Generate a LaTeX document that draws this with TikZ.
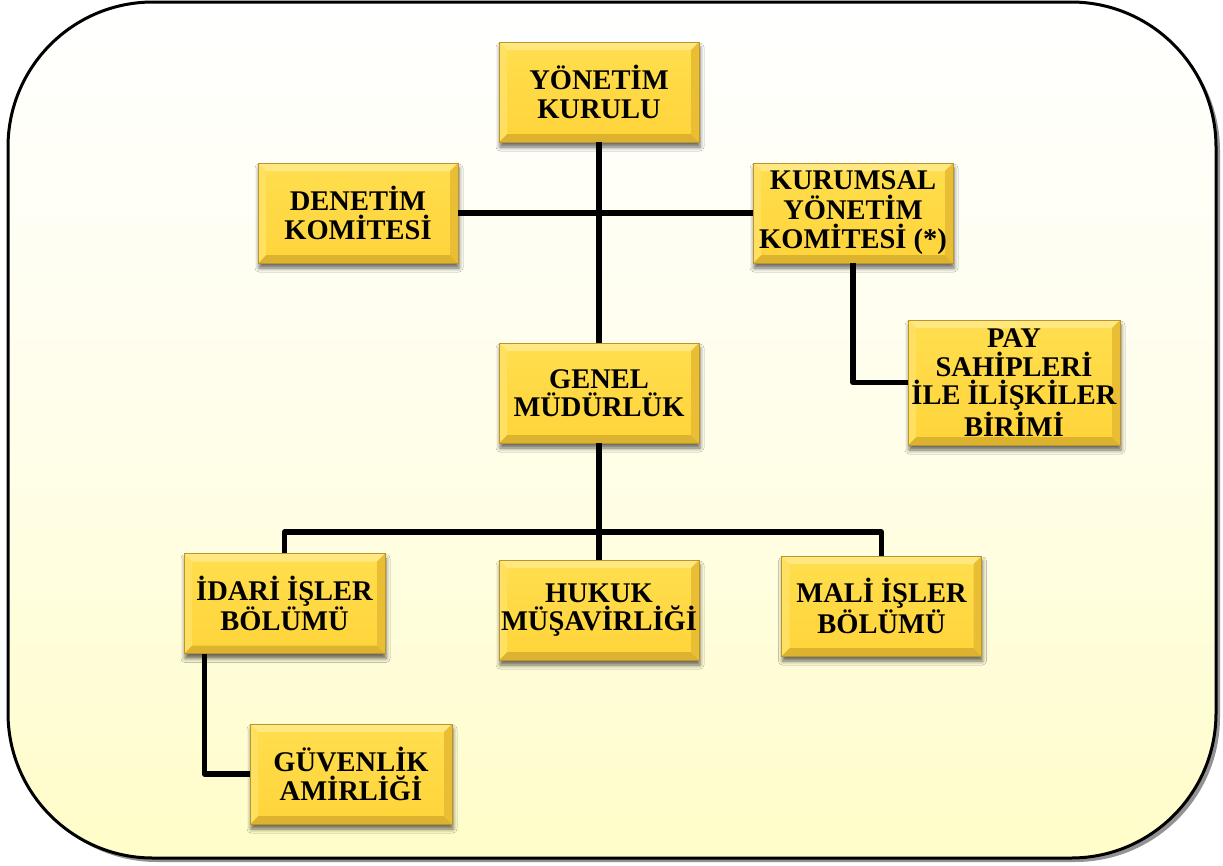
\documentclass[tikz,border=0pt]{standalone}
\usepackage{fontspec}
\setmainfont{Liberation Serif}
\usetikzlibrary{shadows.blur}
\definecolor{bgA}{HTML}{FFFFFF}
\definecolor{bgM}{HTML}{FFFEEA}
\definecolor{bgB}{HTML}{FFFDC8}
\definecolor{faceT}{HTML}{FFDE4E}
\definecolor{faceB}{HTML}{FFD43A}
\definecolor{bevtopc}{HTML}{FFE880}
\definecolor{bevbotc}{HTML}{DDB22E}
\definecolor{bevleftc}{HTML}{FFE060}
\definecolor{bevrightc}{HTML}{EABE34}
\definecolor{boxedge}{HTML}{B8952E}
\newcommand\mybevel{%
 \coordinate (bnw) at (path picture bounding box.north west);
 \coordinate (bne) at (path picture bounding box.north east);
 \coordinate (bsw) at (path picture bounding box.south west);
 \coordinate (bse) at (path picture bounding box.south east);
 \fill[bevtopc] (bnw) -- (bne) -- ([shift={(-8pt,-8pt)}]bne) -- ([shift={(8pt,-8pt)}]bnw) -- cycle;
 \fill[bevbotc] (bsw) -- (bse) -- ([shift={(-8pt,8pt)}]bse) -- ([shift={(8pt,8pt)}]bsw) -- cycle;
 \fill[bevleftc] (bnw) -- (bsw) -- ([shift={(8pt,8pt)}]bsw) -- ([shift={(8pt,-8pt)}]bnw) -- cycle;
 \fill[bevrightc] (bne) -- (bse) -- ([shift={(-8pt,8pt)}]bse) -- ([shift={(-8pt,-8pt)}]bne) -- cycle;
}
\begin{document}
\begin{tikzpicture}[x=1pt,y=-1pt,
  box/.style={rectangle, top color=faceT, bottom color=faceB, draw=boxedge, line width=0.8pt,
    minimum width=200pt, minimum height=100pt, align=center, inner sep=1pt,
    font=\bfseries\fontsize{28.5}{28.5}\selectfont, text=black,
    blur shadow={shadow xshift=1pt, shadow yshift=-5pt, shadow blur radius=4pt, shadow opacity=60},
    path picture={\mybevel}},
  conn/.style={line width=5.5pt, line join=round, draw=black}]
\useasboundingbox (0,0) rectangle (1223,865);
% background panel
\fill[gray!85, rounded corners=145pt] (12,6) rectangle (1220,862);
\draw[line width=3pt, top color=bgA, bottom color=bgB, middle color=bgM, rounded corners=145pt]
  (8,2) rectangle (1216,858);
% boxes
\node[box] (yk) at (599,92) {YÖNETİM\\KURULU};
\node[box] (dk) at (358,213) {DENETİM\\KOMİTESİ};
\node[box, font=\bfseries\fontsize{28.5}{29.5}\selectfont] (kyk) at (853,213) {KURUMSAL\\YÖNETİM\\KOMİTESİ (*)};
\node[box, minimum width=212pt, minimum height=125pt] (pay) at (1014,382.5) {PAY\\SAHİPLERİ\\İLE İLİŞKİLER\\BİRİMİ};
\node[box] (gm) at (599,393) {GENEL\\MÜDÜRLÜK};
\node[box, minimum width=201pt] (idari) at (284.5,603.5) {İDARİ İŞLER\\BÖLÜMÜ};
\node[box] (hukuk) at (599,610) {HUKUK\\MÜŞAVİRLİĞİ};
\node[box] (mali) at (881.5,606) {MALİ İŞLER\\BÖLÜMÜ};
\node[box, minimum width=202pt] (guv) at (351,774) {GÜVENLİK\\AMİRLİĞİ};
% connectors
\draw[conn] (yk.south) -- (gm.north);
\draw[conn] (dk.east) -- (kyk.west);
\draw[conn] (kyk.south) |- (pay.west);
\draw[conn] (gm.south) -- (hukuk.north);
\draw[conn] (idari.north) -- ++(0,-21) -| (mali.north);
\draw[conn] ([xshift=-80pt]idari.south) |- (guv.west);
\end{tikzpicture}
\end{document}
